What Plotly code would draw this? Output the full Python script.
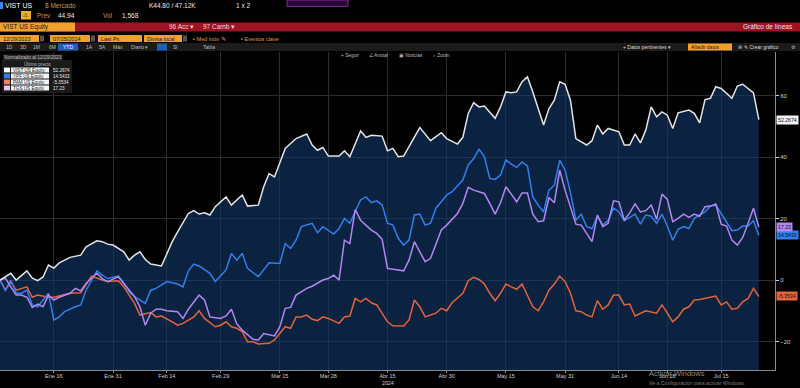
import pandas as pd
import plotly.graph_objects as go

# ---------------- data ----------------
START = "2023-12-29"
END_RANGE = "2024-07-29"
HOLIDAYS = ["2024-01-01", "2024-01-15", "2024-02-19", "2024-03-29",
            "2024-05-27", "2024-06-19", "2024-07-04"]

SERIES_NAMES = ["VIST US Equity", "YPF US Equity", "PAM US Equity", "TGS US Equity"]
LAST_LABELS = ["52.2674", "14.5433", "-5.3534", "17.23"]

TICK_DATES = ["2024-01-16", "2024-01-31", "2024-02-14", "2024-02-29", "2024-03-15",
              "2024-03-28", "2024-04-15", "2024-04-30", "2024-05-15", "2024-05-31",
              "2024-06-14", "2024-06-28", "2024-07-15"]
TICK_LABELS = ["Ene 16", "Ene 31", "Feb 14", "Feb 29", "Mar 15", "Mar 28", "Abr 15",
               "Abr 30", "May 15", "May 31", "Jun 14", "Jun 28", "Jul 15"]
YEAR_LABEL = "2024"
YEAR_LABEL_DATE = "2024-04-15"
Y_TICKS = [-20, 0, 20, 40, 60]

# trading-day index of each sample, and the normalized value (%)
VIST_DAY = [0, 2, 3, 5, 6, 7, 8, 9, 10, 11, 12, 13, 15, 16, 18, 19, 20, 21, 23, 24, 25, 26, 27, 28,
            30, 31, 32, 33, 35, 36, 37, 38, 39, 40, 42, 43, 45, 46, 48, 49, 50, 51, 52, 53, 55, 57,
            58, 59, 60, 61, 63, 64, 65, 66, 67, 68, 69, 71, 72, 73, 74, 75, 77, 78, 80, 82, 83, 85,
            86, 87, 88, 89, 90, 91, 92, 93, 94, 95, 96, 97, 98, 99, 100, 101, 102, 103, 104, 105,
            106, 107, 108, 109, 110, 111, 112, 113, 115, 116, 117, 118, 119, 120, 121, 122, 123,
            124, 125, 126, 128, 129, 130, 131, 132, 133, 134, 136, 137, 138, 140, 141]
VIST_VAL = [0, 2.2, 0, 3, 0.6, -0.2, 1, 4.9, 3.9, 5.6, 6.5, 7.4, 8.1, 10.8, 12.8, 12.5, 11.7, 11.4,
            9.2, 6.5, 8.1, 9.2, 6.7, 5.2, 4.6, 8.7, 12.5, 15.7, 21.7, 22.6, 21.5, 21.9, 21.2, 23.9,
            27.1, 24.4, 27.7, 24.1, 24.4, 30.4, 34.7, 33.6, 38, 42.9, 46.1, 47.6, 44, 42.3, 43.2,
            40.4, 40.4, 42.1, 40.2, 44.5, 48.6, 46.5, 47.2, 46.9, 42.1, 42.9, 40.2, 40.4, 46.9,
            49.7, 45.4, 48, 46.1, 44.3, 46.5, 54.3, 57.8, 56.4, 56.7, 54.8, 52.7, 56.4, 61.3, 61,
            61.3, 64.6, 66.2, 61.3, 56.2, 50.5, 55.9, 58.6, 64.6, 63.8, 58.5, 46.1, 45, 44, 45.4,
            50.5, 47.6, 49.4, 48.3, 44, 44, 47.6, 44.7, 48.9, 56.4, 53.2, 54.8, 53.7, 49.4, 54.5,
            55.4, 54.3, 51.2, 58.8, 59.2, 63, 62.4, 59.2, 63.2, 63.8, 61, 52.27]

YPF_DAY = [0, 1, 2, 3, 4, 5, 6, 7, 9, 10, 11, 12, 14, 15, 16, 18, 19, 20, 22, 23, 24, 25, 27, 28,
           29, 31, 33, 34, 35, 36, 37, 39, 40, 42, 43, 44, 45, 46, 48, 49, 50, 52, 53, 54, 55, 56,
           58, 59, 60, 62, 63, 64, 65, 67, 68, 69, 70, 71, 72, 73, 74, 75, 76, 77, 78, 79, 80, 81,
           82, 83, 84, 86, 87, 88, 89, 90, 91, 92, 93, 94, 95, 96, 97, 98, 99, 100, 101, 102, 103,
           104, 105, 106, 107, 108, 109, 110, 111, 112, 113, 114, 115, 116, 118, 119, 120, 121,
           122, 123, 124, 125, 126, 127, 128, 129, 131, 132, 133, 134, 135, 136, 137, 138, 139,
           140, 141]
YPF_VAL = [0, -3.3, 0, -4.3, -4.3, -3.3, -8.1, -8.7, -4.3, -13, -12, -10.3, -8.7, -8.1, -3.3, 3,
           1.6, 0.5, 1.3, -0.9, -3.8, -5.4, -7.6, -3.3, -2.7, -0.5, -1.3, -2.2, 3, 5.2, 4.6, 2.2,
           -0.5, 3.3, 8.7, 6.5, 8.7, 3.8, 1.1, 3.3, 5.6, 5.4, 11.9, 10.3, 13, 17.4, 18.5, 15.4,
           17.4, 15, 16.8, 20.1, 18.5, 26.1, 27.1, 25.2, 25.8, 24.5, 18.5, 17.9, 13.6, 11.4, 13,
           21.2, 21.5, 17.9, 18.5, 23.4, 25.5, 27.7, 28.8, 32.6, 37.5, 39.6, 42.6, 40.2, 33.1,
           32.8, 34.2, 39.1, 37.8, 36.7, 38.5, 37.1, 27.1, 24.4, 22.2, 29.3, 30.9, 39.1, 35.8,
           28.5, 19.5, 21.5, 17.4, 16.8, 20.8, 17.9, 19.5, 23.4, 22.2, 19.3, 21.5, 18.2, 21.2,
           20.8, 18.5, 21.5, 17.6, 13, 16.5, 17.4, 16.8, 20.1, 22.2, 24.1, 24.4, 21.5, 18.7, 16.1,
           16.3, 17.6, 17.6, 19.3, 14.54]

PAM_DAY = [0, 1, 2, 3, 5, 6, 7, 9, 10, 12, 13, 15, 16, 17, 19, 20, 22, 23, 24, 25, 26, 28, 29, 30,
           32, 33, 34, 36, 37, 38, 40, 41, 42, 43, 44, 45, 46, 47, 48, 50, 51, 53, 54, 55, 56, 57,
           58, 59, 60, 61, 63, 64, 65, 66, 67, 68, 69, 70, 72, 73, 75, 76, 77, 78, 79, 81, 82, 83,
           84, 86, 87, 88, 89, 90, 91, 92, 93, 94, 95, 96, 97, 98, 99, 100, 101, 102, 103, 104,
           105, 106, 107, 108, 109, 110, 111, 112, 113, 114, 115, 116, 117, 118, 119, 120, 122,
           123, 124, 125, 126, 127, 128, 129, 130, 132, 133, 134, 135, 136, 137, 138, 139, 140, 141]
PAM_VAL = [0, -3.3, -0.5, -3.3, -2.2, -5.6, -4.9, -5.6, -5.6, -4.9, -4.3, -4.1, -1.6, 1.3, 0,
           -0.5, -0.2, -2.2, -4.9, -7.6, -11.4, -10.6, -12, -11.7, -13.6, -14.7, -14.1, -12, -10,
           -12.5, -15.2, -14.7, -13.6, -15.2, -15.7, -16.8, -20.1, -20.1, -20.8, -20.6, -19.5,
           -15.2, -15.7, -12, -12, -11.4, -12.8, -13.2, -12, -12.5, -14.1, -12, -11.7, -6, -7.1,
           -6, -7.4, -8.1, -13.6, -14.9, -15, -13, -6.5, -8.7, -12, -10.8, -9.2, -10, -7.4, -4.3,
           -0.2, 0.9, 0.2, -1.3, -4.3, -6.7, -4.3, -1.3, -2.2, -3, -1.3, -4.9, -8.7, -10, -7.1,
           -3.3, -1.3, 1.3, -0.5, -4.3, -10, -10.3, -11.4, -12, -6.7, -9.5, -8.1, -4.9, -4.9,
           -8.1, -7.8, -11.7, -10.8, -10, -10.8, -8.1, -10.8, -13.6, -12, -9.5, -8.7, -6.5, -6.3,
           -5.6, -5.2, -8.1, -7.1, -9.5, -9.2, -7.1, -6, -2.7, -5.35]

TGS_DAY = [0, 1, 2, 3, 4, 5, 6, 7, 8, 9, 10, 11, 13, 14, 15, 16, 18, 19, 20, 22, 23, 25, 26, 27,
           28, 29, 30, 31, 33, 34, 35, 37, 38, 39, 41, 42, 43, 44, 45, 47, 48, 49, 51, 52, 53, 54,
           55, 57, 58, 60, 61, 62, 63, 64, 65, 66, 67, 69, 70, 71, 72, 73, 75, 76, 77, 78, 79, 80,
           81, 82, 83, 85, 86, 87, 88, 90, 91, 92, 93, 94, 95, 96, 97, 98, 99, 100, 101, 102, 103,
           104, 105, 106, 107, 108, 109, 110, 111, 112, 113, 114, 115, 116, 117, 118, 119, 120,
           121, 122, 123, 124, 125, 126, 127, 128, 129, 130, 131, 132, 133, 134, 135, 136, 137,
           138, 139, 140, 141]
TGS_VAL = [0, 0.6, -2.2, -4.9, -4.9, -5.6, -8.9, -7.8, -8.7, -4.9, -6.5, -5.6, -4.3, -2.7, -3.5,
           -1.1, 2.2, 0.5, -0.5, 1.1, -1.1, -5.4, -8.7, -14.7, -10.8, -9.5, -9.5, -10, -10.3,
           -12.5, -9.5, -4.9, -6.5, -12, -12.5, -11.7, -9.5, -14.3, -16.3, -19.3, -19.5, -17.4,
           -18.2, -15.2, -9.2, -8.9, -4.9, -2.7, -2, 0, 0.5, 1.6, 0, 13, 11.9, 23, 19.5, 16.3,
           15.2, 13.3, 3.8, 3.5, 3, 6.5, 12.5, 9.2, 6, 7.1, 11.4, 16.3, 17.9, 21.7, 25, 30.2, 29.3,
           28.2, 25, 21.5, 25.2, 30.4, 28, 25.5, 28.4, 28.4, 21.5, 19, 19.3, 26.9, 25.2, 35.8,
           29.3, 24, 18.2, 17.9, 15.2, 12.5, 21.2, 17.4, 18.5, 25.8, 25.5, 19.5, 21.9, 24.8, 22.2,
           22.6, 24.4, 19.8, 28, 26.3, 19, 20.1, 21.5, 20.4, 21.5, 20.8, 23.9, 24.1, 24.8, 18.2,
           17.6, 13, 11.4, 13.9, 18.5, 23.4, 17.23]

# ---------------- styling ----------------
Y_MIN, Y_MAX = -29.3, 74.3
W, H = 800, 388
L, R, T, B = 0, 25, 52, 18
PW, PH = W - L - R, H - T - B
FONT = "Liberation Sans, Arial, sans-serif"

C_WHITE, C_BLUE, C_ORANGE, C_PURPLE = "#e4e4e4", "#2f80ee", "#e3643c", "#b486f2"
TAG_BG = ["#f2f2f2", "#2f80ee", "#e3643c", "#b486f2"]
TAG_FG = ["#111111", "#0a0a0a", "#111111", "#111111"]
LEG_SQ = ["#ffffff", "#2f80ee", "#f08060", "#e6c8ff"]

HOL = set(HOLIDAYS)
CAL = [d for d in pd.bdate_range(START, END_RANGE) if d.strftime("%Y-%m-%d") not in HOL]


def to_dates(days):
    return [CAL[i] for i in days]


fig = go.Figure()
vx = to_dates(VIST_DAY)
fig.add_trace(go.Scatter(x=vx, y=[Y_MIN] * len(vx), mode="lines", line=dict(width=0),
                         hoverinfo="skip", showlegend=False))
fig.add_trace(go.Scatter(x=vx, y=VIST_VAL, mode="lines", line=dict(width=0),
                         fill="tonexty", fillcolor="rgba(18,58,108,0.6)",
                         hoverinfo="skip", showlegend=False))
for days, vals, col in [(PAM_DAY, PAM_VAL, C_ORANGE), (YPF_DAY, YPF_VAL, C_BLUE),
                        (TGS_DAY, TGS_VAL, C_PURPLE), (VIST_DAY, VIST_VAL, C_WHITE)]:
    fig.add_trace(go.Scatter(x=to_dates(days), y=vals, mode="lines",
                             line=dict(color=col, width=1.5), showlegend=False))


def PX(x):
    return (x - L) / PW


def PY(y):
    return (H - B - y) / PH


shapes = []
annots = []


def rect(x0, y0, x1, y1, fill, line=None):
    shapes.append(dict(type="rect", xref="paper", yref="paper", x0=PX(x0), x1=PX(x1),
                       y0=PY(y1), y1=PY(y0), fillcolor=fill,
                       line=dict(width=0.6 if line else 0, color=line or fill), layer="above"))


def text(x, y, s, color="#dddddd", size=6, anchor="left", bg=None):
    annots.append(dict(xref="paper", yref="paper", x=PX(x), y=PY(y), text=s, showarrow=False,
                       xanchor=anchor, yanchor="middle",
                       font=dict(family=FONT, size=size, color=color),
                       bgcolor=bg, borderpad=0))


# ---- header (Bloomberg terminal chrome) ----
rect(0, 0, 800, 52, "#000000")
rect(0, 2, 3, 9, "#2f8cff")
text(4, 5.5, "VIST US", "#ffffff", 7)
text(44, 5.5, "$ Mercado", "#c8964a", 6.5)
text(148, 5.5, "K44.80 / 47.12K", "#e8e8e8", 6.5)
text(235, 5.5, "1 x 2", "#e8e8e8", 6.5)
rect(287, 0, 348, 6.5, "#2a0838", "#b04ad0")
rect(21, 11, 31, 19.5, "#e8b020")
text(26, 15.3, "⚠", "#222222", 6, "center")
text(36, 15.5, "Prev", "#c8964a", 6.5)
text(57, 15.5, "44.94", "#e8e8e8", 6.5)
text(102, 15.5, "Vol", "#c8964a", 6.5)
text(121, 15.5, "1,568", "#e8e8e8", 6.5)

rect(0, 22.5, 800, 31.5, "#9c1424")
rect(0, 22.5, 75, 31.5, "#f0a02c")
text(2, 27, "VIST US Equity", "#1a1a1a", 6.5)
text(168, 27, "96 Acc ▾", "#f0d0d0", 6.5)
text(202, 27, "97 Camb ▾", "#f0d0d0", 6.5)
text(794, 27, "Gráfico de líneas", "#f4e0e0", 6.5, "right")

for x0, x1, s in [(0, 39, "12/29/2023"), (50, 90, "07/25/2024"), (98, 142, "Last Px"),
                  (144, 182, "Divisa local")]:
    rect(x0, 35, x1, 42, "#f0a02c")
    text(x0 + 2, 38.6, s, "#1a1a1a", 5.5)
for x0 in [40, 91, 183]:
    rect(x0, 35.5, x0 + 4, 41.5, "#555555")
text(192, 38.6, "▪ Med móv ✎", "#e89a30", 5.5)
text(240, 38.6, "▪ Eventos clave", "#e89a30", 5.5)

rect(0, 43, 800, 51, "#1b1b1b")
for x, s in [(5, "1D"), (19, "3D"), (32, "1M"), (48, "6M"), (85, "1A"), (98, "5A"),
             (112, "Máx"), (130, "Diario ▾"), (172, "Sl"), (202, "Tabla")]:
    text(x, 47, s, "#bbbbbb", 5)
rect(58, 43.5, 78, 50.5, "#1f5fb8")
text(68, 47, "YTD", "#ffffff", 5, "center")
rect(157, 43.5, 167, 50.5, "#1f5fb8")
text(622, 47, "+ Datos pertinentes ▾", "#dddddd", 5)
rect(688, 43.5, 732, 50.5, "#f0a02c")
text(690, 47, "Añadir datos", "#1a1a1a", 5)
text(737, 47, "⊞", "#bbbbbb", 5)
text(743, 47, "✎ Crear gráfico", "#dddddd", 5)
text(797, 47, "⚙", "#bbbbbb", 5, "right")

# chart-area top row
text(3, 57, "Normalizado al 12/29/2023", "#bdbdbd", 4.8, bg="#2a2a2a")
for x, s in [(340, "+ Seguir"), (368, "∠ Anotar"), (398, "▣ Noticias"), (432, "⌕ Zoom")]:
    text(x, 55, s, "#bbbbbb", 4.8)

# legend box
rect(2, 60, 72, 93, "rgba(30,30,30,0.85)")
text(37, 64, "Último precio", "#bbbbbb", 4.6, "center")
for i, (nm, val, sq) in enumerate(zip(SERIES_NAMES, LAST_LABELS, LEG_SQ)):
    yy = 70 + i * 6
    rect(4, yy - 2.4, 10, yy + 2.4, sq)
    rect(11, yy - 2.6, 49, yy + 2.6, "#f4f4f4")
    text(12, yy, nm, "#222222", 4.6)
    text(52, yy, val, "#e8e8e8", 4.6)

# right-axis last-value tags
LAST_VALS = [VIST_VAL[-1], YPF_VAL[-1], PAM_VAL[-1], TGS_VAL[-1]]
for v, s, bg, fg in zip(LAST_VALS, LAST_LABELS, TAG_BG, TAG_FG):
    annots.append(dict(xref="paper", yref="y", x=1, y=v, xanchor="left", yanchor="middle",
                       xshift=1, text=s, showarrow=False, bgcolor=bg, borderpad=1,
                       font=dict(family=FONT, size=5.2, color=fg)))

# year under the April tick
annots.append(dict(xref="x", yref="paper", x=YEAR_LABEL_DATE, y=PY(383), text=YEAR_LABEL,
                   showarrow=False, xanchor="center", yanchor="middle",
                   font=dict(family=FONT, size=5.2, color="#cfcfcf")))

# windows watermark
text(648, 373, "Activar Windows", "#8a8a8a", 7.5)
text(648, 382.5, "Ve a Configuración para activar Windows.", "#7a7a7a", 5.2)

fig.update_layout(
    width=W, height=H, autosize=False,
    margin=dict(l=L, r=R, t=T, b=B, pad=0),
    paper_bgcolor="#000000", plot_bgcolor="#000000",
    font=dict(family=FONT, color="#cccccc", size=6),
    shapes=shapes, annotations=annots, showlegend=False,
    xaxis=dict(type="date", range=[START, END_RANGE],
               rangebreaks=[dict(bounds=["sat", "mon"]), dict(values=HOLIDAYS)],
               tickvals=TICK_DATES, ticktext=TICK_LABELS,
               tickfont=dict(size=5.5, color="#cfcfcf"), ticklabelstandoff=-2,
               showgrid=True, gridcolor="#2c2c2c", gridwidth=1,
               showline=True, linecolor="#8a8a8a", linewidth=1,
               ticks="outside", ticklen=2, tickcolor="#8a8a8a", zeroline=False),
    yaxis=dict(range=[Y_MIN, Y_MAX], side="right", tickvals=Y_TICKS,
               tickfont=dict(size=6, color="#cfcfcf"),
               showgrid=True, gridcolor="#2c2c2c", gridwidth=1,
               showline=True, linecolor="#8a8a8a", linewidth=1,
               ticks="outside", ticklen=3, tickcolor="#cfcfcf", zeroline=False),
)

fig.write_html("out.html", config={"displayModeBar": False},
               post_script="document.body.style.margin='0px';document.body.style.padding='0px';")
